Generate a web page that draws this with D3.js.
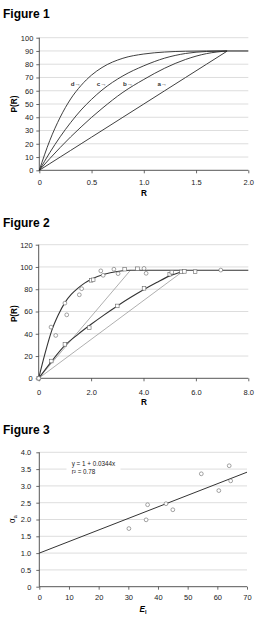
<!DOCTYPE html>
<html>
<head>
<meta charset="utf-8">
<script src="https://cdn.jsdelivr.net/npm/d3@7"></script>
<style>
  body { margin: 0; background: #fff; }
  svg { display: block; font-family: "Liberation Sans", Arial, sans-serif; }
</style>
</head>
<body>
<div id="chart"></div>
<script>
// Figure 1 - model curves
const rValues = [0, 0.1, 0.2, 0.3, 0.4, 0.5, 0.6, 0.8, 1.0, 1.2, 1.4, 1.6, 1.8];
const curveA = [0, 5, 10, 15, 20, 25, 30, 40, 50, 60, 70, 80, 90];
const curveB = [0, 8.8, 17.2, 25.2, 32.7, 39.9, 46.6, 58.8, 68.5, 77, 83.6, 88, 90];
const curveC = [0, 13.3, 25.3, 36.0, 45.5, 53.5, 60.5, 71.2, 78.8, 84.6, 88.1, 89.6, 90];
const curveD = [0, 22.4, 40.0, 53.8, 64.0, 71.8, 77.5, 84.5, 87.7, 89.2, 89.8, 90, 90];
const plateau1 = [[1.8, 90], [2.0, 90]];
const curveLabels = ["d\u2192", "c\u2192", "b\u2192", "a\u2192"];
const curveLabelR = [0.30, 0.55, 0.80, 1.13];
const curveLabelP = 65;

// Figure 2 - observations and fits
const circleR = [0, 0.47, 0.65, 1.0, 1.07, 1.55, 1.64, 2.37, 2.46, 2.87, 3.03, 4.02, 4.1, 6.95];
const circleP = [0, 46, 38.5, 67.5, 57, 75, 80.5, 96.5, 92.5, 98, 94, 98.7, 94.3, 97.2];
const squareR = [0, 0.48, 1.0, 1.93, 2.0, 2.08, 3.0, 3.28, 3.77, 4.02, 5.0, 5.08, 5.45, 5.56, 5.97];
const squareP = [0, 15.5, 30.5, 45.5, 88, 88.5, 65, 98, 98.4, 80.8, 93.5, 95.3, 95.6, 96, 95.8];
const upperFitR = [0, 0.25, 0.5, 0.75, 1.0, 1.25, 1.5, 1.75, 2.0, 2.5, 3.0, 3.5, 8.0];
const upperFitP = [0, 23, 43, 57, 68, 75.5, 81, 85.5, 89, 93.5, 96, 97, 97];
const lowerFitR = [0, 0.5, 1.0, 1.5, 2.0, 2.5, 3.0, 3.5, 4.0, 4.5, 5.0, 5.5];
const lowerFitP = [0, 15.5, 29.5, 39.5, 48.5, 57, 65, 72.5, 79.5, 86, 92, 96];
const grayLines = [[[0, 0], [3.5, 97]], [[0, 0], [5.5, 96]]];

// Figure 3 - regression
const eValues = [30.2, 36.0, 36.5, 42.7, 45.0, 54.6, 60.5, 64.0, 64.5];
const alphaValues = [1.73, 1.99, 2.44, 2.47, 2.29, 3.36, 2.86, 3.60, 3.15];
const fitLine = [[0, 1.0], [70, 3.408]];
const fitText = ["y = 1 + 0.0344x", "r\u00b2 = 0.78"];

const W = 257, H = 632;
const svg = d3.select("#chart").append("svg")
    .attr("width", W)
    .attr("height", H);

const fmt1 = d => d === 0 ? "0" : d3.format(".1f")(d);

function panel(opt) {
    const x = d3.scaleLinear().domain(opt.xDomain).range([opt.left, opt.right]);
    const y = d3.scaleLinear().domain(opt.yDomain).range([opt.bottom, opt.top]);
    const g = svg.append("g");

    g.append("text")
        .attr("x", 3)
        .attr("y", opt.titleY)
        .attr("font-size", 12)
        .attr("font-weight", "bold")
        .text(opt.title);

    const yTicks = d3.range(opt.yDomain[0], opt.yDomain[1] + opt.yStep / 2, opt.yStep);
    g.append("g").selectAll("line")
        .data(yTicks.filter(d => d > 0))
        .join("line")
        .attr("x1", opt.left).attr("x2", opt.right)
        .attr("y1", d => y(d)).attr("y2", d => y(d))
        .attr("stroke", "#d4d4d4")
        .attr("stroke-width", 0.8);

    const xTicks = d3.range(opt.xDomain[0], opt.xDomain[1] + opt.xStep / 2, opt.xStep);

    const yAxis = g.append("g")
        .attr("transform", `translate(${opt.left},0)`)
        .call(d3.axisLeft(y).tickValues(yTicks).tickSize(3).tickPadding(opt.yPad).tickFormat(opt.yFormat));
    const xAxis = g.append("g")
        .attr("transform", `translate(0,${opt.bottom})`)
        .call(d3.axisBottom(x).tickValues(xTicks).tickSize(3).tickPadding(opt.xPad).tickFormat(opt.xFormat));

    [yAxis, xAxis].forEach(a => {
        a.select(".domain").attr("stroke", "#444").attr("stroke-width", 0.9);
        a.selectAll(".tick line").attr("stroke", "#444").attr("stroke-width", 0.8);
        a.selectAll(".tick text")
            .attr("font-size", 7.5)
            .attr("fill", "#222")
            .attr("font-family", "Liberation Sans, Arial, sans-serif");
    });
    yAxis.select(".domain").attr("d", `M0,${opt.bottom}V${opt.top}`);
    xAxis.select(".domain").attr("d", `M${opt.left},0H${opt.right}`);

    return {g, x, y};
}

// ---------- Figure 1 ----------
const p1 = panel({
    title: "Figure 1", titleY: 17.5,
    left: 39.3, right: 248.3, top: 37.7, bottom: 170.3,
    xDomain: [0, 2], yDomain: [0, 100], xStep: 0.5, yStep: 10,
    xPad: 6.5, yPad: 3,
    xFormat: fmt1, yFormat: d3.format("d")
});

const line1 = d3.line().x(d => p1.x(d[0])).y(d => p1.y(d[1])).curve(d3.curveMonotoneX);
[curveA, curveB, curveC, curveD].forEach(vals => {
    p1.g.append("path")
        .datum(rValues.map((r, i) => [r, vals[i]]))
        .attr("d", line1)
        .attr("fill", "none")
        .attr("stroke", "#2a2a2a")
        .attr("stroke-width", 0.9);
});
p1.g.append("path")
    .datum(plateau1)
    .attr("d", d3.line().x(d => p1.x(d[0])).y(d => p1.y(d[1])))
    .attr("stroke", "#777")
    .attr("stroke-width", 1.8);

p1.g.selectAll(".clabel")
    .data(curveLabels)
    .join("text")
    .attr("x", (d, i) => p1.x(curveLabelR[i]))
    .attr("y", p1.y(curveLabelP) + 2.2)
    .attr("font-size", 6.2)
    .attr("font-weight", "bold")
    .attr("fill", "#333")
    .text(d => d);

p1.g.append("text")
    .attr("x", 144).attr("y", 195.5)
    .attr("text-anchor", "middle")
    .attr("font-size", 8.2).attr("font-weight", "bold")
    .text("R");
p1.g.append("text")
    .attr("transform", "translate(16.8,104) rotate(-90)")
    .attr("text-anchor", "middle")
    .attr("font-size", 8.2).attr("font-weight", "bold")
    .text("P(R)");

// ---------- Figure 2 ----------
const p2 = panel({
    title: "Figure 2", titleY: 226.7,
    left: 38.7, right: 248.3, top: 244.7, bottom: 378.3,
    xDomain: [0, 8], yDomain: [0, 120], xStep: 2, yStep: 20,
    xPad: 8.5, yPad: 3,
    xFormat: fmt1, yFormat: d3.format("d")
});

const lin2 = d3.line().x(d => p2.x(d[0])).y(d => p2.y(d[1]));
grayLines.forEach(seg => {
    p2.g.append("path")
        .datum(seg)
        .attr("d", lin2)
        .attr("stroke", "#9a9a9a")
        .attr("stroke-width", 0.8);
});
const curve2 = d3.line().x(d => p2.x(d[0])).y(d => p2.y(d[1])).curve(d3.curveMonotoneX);
p2.g.append("path")
    .datum(upperFitR.map((r, i) => [r, upperFitP[i]]))
    .attr("d", curve2)
    .attr("fill", "none")
    .attr("stroke", "#333")
    .attr("stroke-width", 1.1);
p2.g.append("path")
    .datum(lowerFitR.map((r, i) => [r, lowerFitP[i]]))
    .attr("d", curve2)
    .attr("fill", "none")
    .attr("stroke", "#333")
    .attr("stroke-width", 1.1);

p2.g.append("g").selectAll("rect")
    .data(squareR.map((r, i) => [r, squareP[i]]))
    .join("rect")
    .attr("x", d => p2.x(d[0]) - 1.8)
    .attr("y", d => p2.y(d[1]) - 1.8)
    .attr("width", 3.6).attr("height", 3.6)
    .attr("fill", "#fff")
    .attr("stroke", "#666")
    .attr("stroke-width", 0.6);
p2.g.append("g").selectAll("circle")
    .data(circleR.map((r, i) => [r, circleP[i]]))
    .join("circle")
    .attr("cx", d => p2.x(d[0]))
    .attr("cy", d => p2.y(d[1]))
    .attr("r", 1.9)
    .attr("fill", "#fff")
    .attr("stroke", "#666")
    .attr("stroke-width", 0.6);

p2.g.append("text")
    .attr("x", 144).attr("y", 405.2)
    .attr("text-anchor", "middle")
    .attr("font-size", 8.2).attr("font-weight", "bold")
    .text("R");
p2.g.append("text")
    .attr("transform", "translate(16.8,313.7) rotate(-90)")
    .attr("text-anchor", "middle")
    .attr("font-size", 8.2).attr("font-weight", "bold")
    .text("P(R)");

// ---------- Figure 3 ----------
const p3 = panel({
    title: "Figure 3", titleY: 434,
    left: 39.3, right: 247, top: 452.3, bottom: 586.7,
    xDomain: [0, 70], yDomain: [0, 4], xStep: 10, yStep: 0.5,
    xPad: 5, yPad: 5,
    xFormat: d3.format("d"), yFormat: fmt1
});

p3.g.append("path")
    .datum(fitLine)
    .attr("d", d3.line().x(d => p3.x(d[0])).y(d => p3.y(d[1])))
    .attr("stroke", "#333")
    .attr("stroke-width", 1);

p3.g.append("g").selectAll("circle")
    .data(eValues.map((e, i) => [e, alphaValues[i]]))
    .join("circle")
    .attr("cx", d => p3.x(d[0]))
    .attr("cy", d => p3.y(d[1]))
    .attr("r", 1.9)
    .attr("fill", "#fff")
    .attr("stroke", "#666")
    .attr("stroke-width", 0.6);

// equation box
p3.g.append("rect")
    .attr("x", 66.5).attr("y", 456)
    .attr("width", 54).attr("height", 21)
    .attr("fill", "#fff");
p3.g.selectAll(".eq")
    .data(fitText)
    .join("text")
    .attr("x", 71.7)
    .attr("y", (d, i) => 465.5 + i * 8.2)
    .attr("font-size", 6.3)
    .attr("fill", "#222")
    .text(d => d);

const xt = p3.g.append("text")
    .attr("x", 143).attr("y", 612)
    .attr("text-anchor", "middle")
    .attr("font-size", 8.2).attr("font-weight", "bold");
xt.append("tspan").attr("font-style", "italic").text("E");
xt.append("tspan").attr("font-size", 5.5).attr("dy", 2).text("I");

const yt = p3.g.append("text")
    .attr("transform", "translate(14.5,519) rotate(-90)")
    .attr("text-anchor", "middle")
    .attr("font-size", 8.2);
yt.append("tspan").text("\u03b1");
yt.append("tspan").attr("font-size", 5.5).attr("dy", 2).text("a");
</script>
</body>
</html>
